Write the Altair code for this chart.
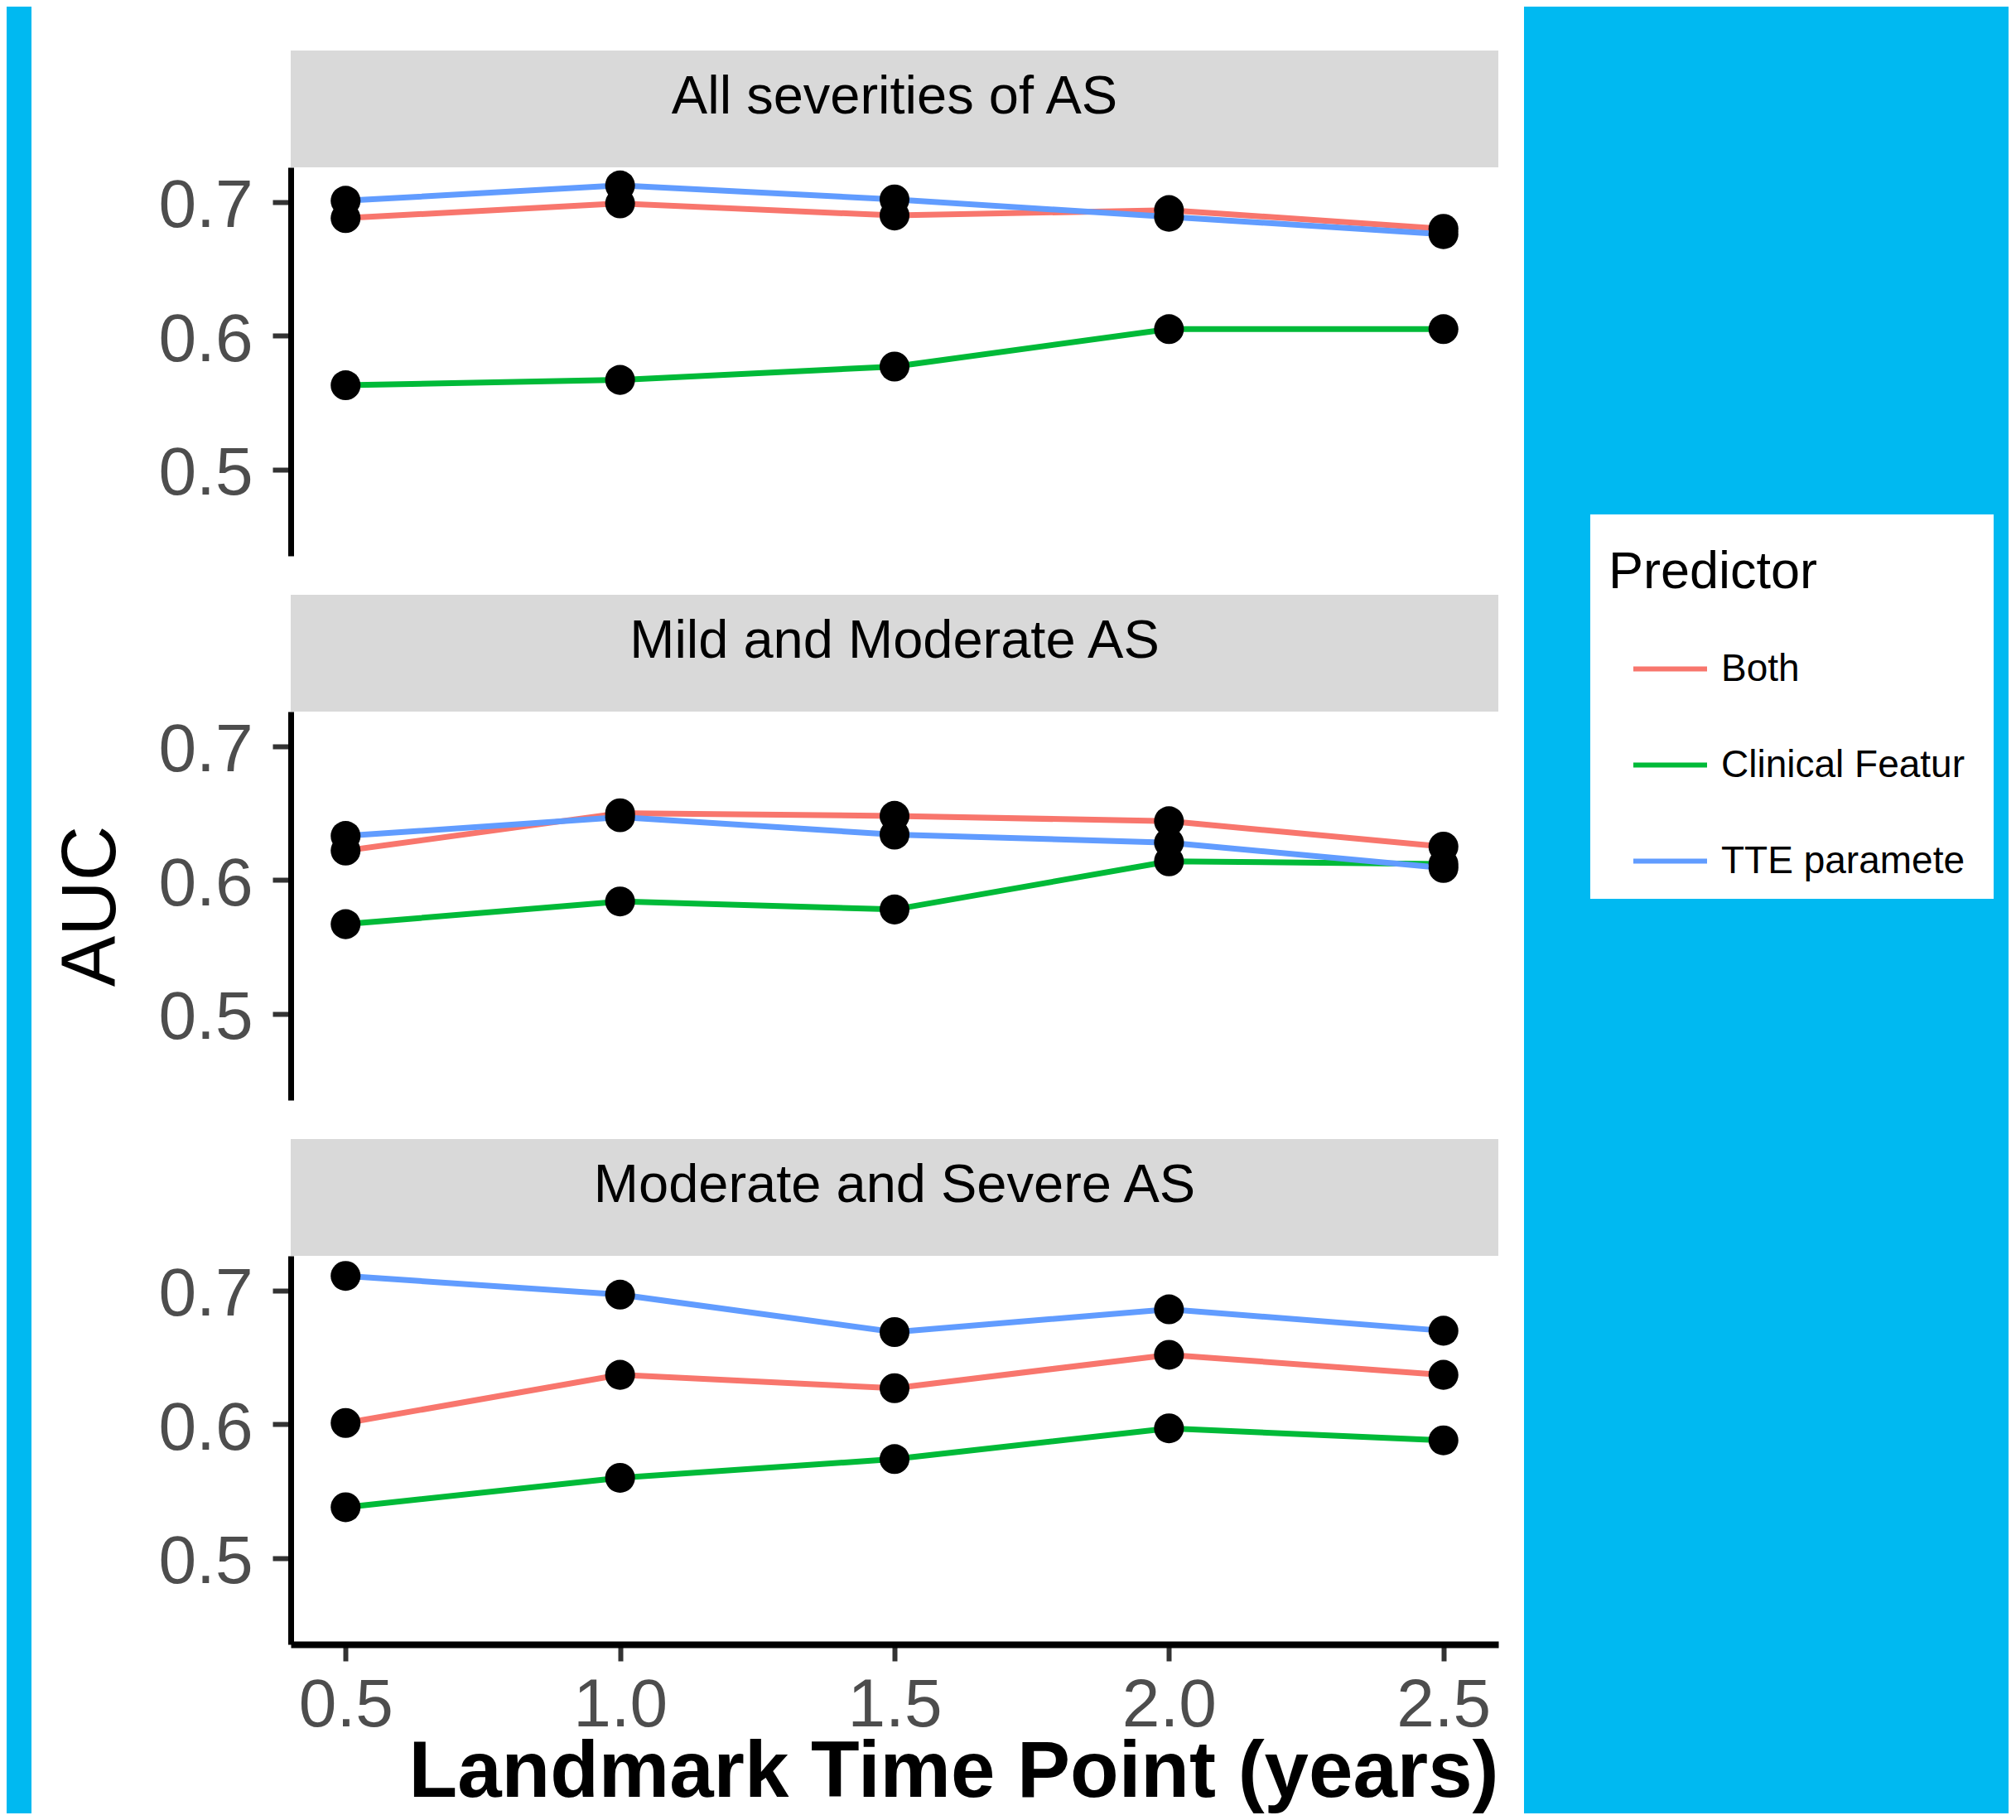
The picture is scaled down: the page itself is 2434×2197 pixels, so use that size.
import altair as alt
import pandas as pd

# ---------------- data ----------------
TIMES = [0.5, 1.0, 1.5, 2.0, 2.5]
PANELS = ["All severities of AS", "Mild and Moderate AS", "Moderate and Severe AS"]
PREDICTORS = ["Both", "Clinical Features", "TTE parameters"]
COLORS = ["#F8766D", "#00BA38", "#619CFF"]

ALL_BOTH = [0.688, 0.699, 0.690, 0.694, 0.680]
ALL_CLIN = [0.563, 0.567, 0.577, 0.605, 0.605]
ALL_TTE = [0.701, 0.7125, 0.702, 0.689, 0.676]

MILD_BOTH = [0.622, 0.650, 0.648, 0.644, 0.625]
MILD_CLIN = [0.567, 0.584, 0.578, 0.614, 0.612]
MILD_TTE = [0.633, 0.647, 0.634, 0.628, 0.609]

SEV_BOTH = [0.601, 0.637, 0.627, 0.652, 0.637]
SEV_CLIN = [0.538, 0.560, 0.574, 0.597, 0.588]
SEV_TTE = [0.711, 0.697, 0.669, 0.686, 0.670]

SERIES = [
    [ALL_BOTH, ALL_CLIN, ALL_TTE],
    [MILD_BOTH, MILD_CLIN, MILD_TTE],
    [SEV_BOTH, SEV_CLIN, SEV_TTE],
]

rows = []
for panel, series in zip(PANELS, SERIES):
    for pred, vals in zip(PREDICTORS, series):
        for t, v in zip(TIMES, vals):
            rows.append({"panel": panel, "Predictor": pred, "time": t, "auc": v})
df = pd.DataFrame(rows)

# ---------------- style ----------------
FONT = "Liberation Sans"
BLUE = "#00B9F1"
STRIP = "#D9D9D9"
PW, PH, SH = 1458, 469, 141

x_scale = alt.Scale(domain=[0.4, 2.6], nice=False, zero=False)
y_scale = alt.Scale(domain=[0.4354, 0.726], nice=False, zero=False)

legend = alt.Legend(
    title="Predictor", orient="none", legendX=1912, legendY=613,
    fillColor="white", padding=22,
    titleFont=FONT, titleFontSize=63, titleFontWeight="normal", titleColor="black",
    titleBaseline="line-top", titleLineHeight=97, titlePadding=54, titleLimit=600,
    labelFont=FONT, labelFontSize=46, labelColor="black", labelOffset=14, labelLimit=320,
    symbolType="stroke", symbolSize=7921, symbolStrokeWidth=6, symbolOffset=27,
    rowPadding=45,
)
color = alt.Color("Predictor:N", scale=alt.Scale(domain=PREDICTORS, range=COLORS), legend=legend)


def y_axis(title):
    kw = dict(values=[0.5, 0.6, 0.7], format=".1f", grid=False,
              domainColor="black", domainWidth=7,
              tickColor="#333333", tickWidth=6, tickSize=22,
              labelFont=FONT, labelFontSize=82, labelColor="#4D4D4D",
              labelPadding=24, labelOffset=5)
    if title:
        kw.update(title=title, titleFont=FONT, titleFontSize=92, titleFontWeight="normal",
                  titleColor="black", titlePadding=34)
    else:
        kw["title"] = None
    return alt.Axis(**kw)


x_axis = alt.Axis(values=TIMES, format=".1f", grid=False, labelFlush=False,
                  domainColor="black", domainWidth=8,
                  tickColor="#333333", tickWidth=6, tickSize=20,
                  labelFont=FONT, labelFontSize=82, labelColor="#4D4D4D", labelPadding=13,
                  title="Landmark Time Point (years)", titleFont=FONT, titleFontSize=96,
                  titleFontWeight="bold", titleColor="black", titleAnchor="end", titlePadding=-7)


def make_panel(name, yaxis, xaxis):
    base = alt.Chart(df).transform_filter(alt.datum.panel == name)
    enc = dict(x=alt.X("time:Q", scale=x_scale, axis=xaxis),
               y=alt.Y("auc:Q", scale=y_scale, axis=yaxis))
    lines = base.mark_line(strokeWidth=7).encode(color=color, **enc)
    pts = base.mark_circle(size=1300, color="black", opacity=1).encode(**enc)
    return alt.layer(lines, pts).properties(width=PW, height=PH)


def make_strip(name):
    return (alt.Chart(pd.DataFrame({"label": [name]}))
            .mark_text(font=FONT, fontSize=65, color="black", dy=-15)
            .encode(text="label:N")
            .properties(width=PW, height=SH, view=alt.ViewBackground(fill=STRIP, stroke=None)))


def block(w, h, fill):
    vb = alt.ViewBackground(fill=fill, stroke=None) if fill else alt.ViewBackground(stroke=None)
    return (alt.Chart(pd.DataFrame({"v": [0]}))
            .mark_point(opacity=0, size=0, strokeWidth=0)
            .encode(size=alt.value(0))
            .properties(width=w, height=h, view=vb))


g1 = alt.vconcat(make_strip(PANELS[0]), make_panel(PANELS[0], y_axis(None), None), spacing=0)
g2 = alt.vconcat(make_strip(PANELS[1]), make_panel(PANELS[1], y_axis("AUC"), None), spacing=0)
g3 = alt.vconcat(make_strip(PANELS[2]), make_panel(PANELS[2], y_axis(None), x_axis), spacing=0)
main = alt.vconcat(block(PW, 6, None), g1, g2, g3, spacing=47)

inner = alt.hconcat(block(30, 2181, BLUE), main, spacing=26)
chart = (alt.hconcat(inner, block(585, 2181, BLUE), spacing=31)
         .properties(padding=0, background="white")
         .configure(view=alt.ViewConfig(stroke=None),
                    style={"guide-label": {"ellipsis": " "}}))

chart.save("out.html", embed_options={"renderer": "svg", "actions": False})
